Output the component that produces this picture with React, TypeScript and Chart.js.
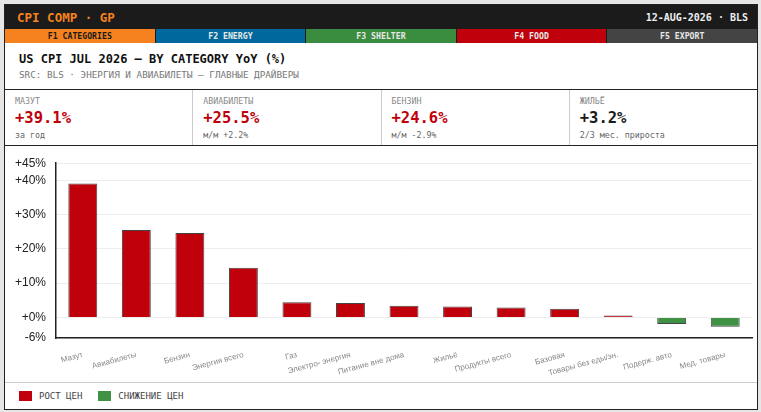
import React, { useEffect, useRef } from "react";
import { Chart, registerables } from "chart.js";

Chart.register(...registerables);

const categories = [
  "Мазут",
  "Авиабилеты",
  "Бензин",
  "Энергия всего",
  "Газ",
  "Электро- энергия",
  "Питание вне дома",
  "Жильё",
  "Продукты всего",
  "Базовая",
  "Товары без еды/эн.",
  "Подерж. авто",
  "Мед. товары",
];
const yoyValues = [39.1, 25.5, 24.6, 14.5, 4.4, 4.2, 3.4, 3.2, 2.9, 2.5, 0.6, -1.9, -2.7];
const yTickValues = [-6, 0, 10, 20, 30, 40, 45];
const tabs = [
  { label: "F1 CATEGORIES", bg: "#f5821f", fg: "#1a1a1a" },
  { label: "F2 ENERGY", bg: "#00689c", fg: "#e8e8e8" },
  { label: "F3 SHELTER", bg: "#3a8c3f", fg: "#e8e8e8" },
  { label: "F4 FOOD", bg: "#c0000b", fg: "#e8e8e8" },
  { label: "F5 EXPORT", bg: "#444444", fg: "#e8e8e8" },
];
const kpis = [
  { label: "МАЗУТ", value: "+39.1%", sub: "за год", color: "#c0000b" },
  { label: "АВИАБИЛЕТЫ", value: "+25.5%", sub: "м/м +2.2%", color: "#c0000b" },
  { label: "БЕНЗИН", value: "+24.6%", sub: "м/м -2.9%", color: "#c0000b" },
  { label: "ЖИЛЬЁ", value: "+3.2%", sub: "2/3 мес. прироста", color: "#1a1a1a" },
];

const RED = "#c0000b";
const GREEN = "#3f9244";
const MONO = "'DejaVu Sans Mono', monospace";
const SANS = "'Liberation Sans', Arial, sans-serif";

function BarChart() {
  const ref = useRef<HTMLCanvasElement | null>(null);
  useEffect(() => {
    if (!ref.current) return;
    const chart = new Chart(ref.current, {
      type: "bar",
      data: {
        labels: categories,
        datasets: [
          {
            data: yoyValues,
            backgroundColor: yoyValues.map((v) => (v >= 0 ? RED : GREEN)),
            borderColor: "#444",
            borderWidth: 1,
            categoryPercentage: 0.6,
            barPercentage: 0.9,
          },
        ],
      },
      options: {
        animation: false,
        responsive: true,
        maintainAspectRatio: false,
        layout: { padding: { top: 14, right: 5, left: 0, bottom: 0 } },
        plugins: { legend: { display: false }, tooltip: { enabled: false } },
        scales: {
          x: {
            grid: { display: false },
            border: { display: true, color: "#222", width: 1.5 },
            afterFit: (axis: any) => {
              axis.height = 44;
            },
            ticks: {
              autoSkip: false,
              minRotation: 15,
              maxRotation: 15,
              padding: 4,
              color: "#888",
              font: { family: SANS, size: 8 },
            },
          },
          y: {
            min: -6,
            max: 45,
            afterBuildTicks: (axis: any) => {
              axis.ticks = yTickValues.map((v) => ({ value: v }));
            },
            grid: { color: "#eeeeee", drawTicks: false },
            border: { display: true, color: "#222", width: 1.5 },
            ticks: {
              padding: 10,
              color: "#222",
              font: { family: SANS, size: 12 },
              callback: (v: any) => (Number(v) >= 0 ? "+" : "") + v + "%",
            },
          },
        },
      },
    });
    return () => chart.destroy();
  }, []);
  return <canvas ref={ref} />;
}

export default function App() {
  useEffect(() => {
    document.body.style.margin = "0";
    document.body.style.background = "#e6e6e6";
  }, []);
  return (
    <div
      style={{
        position: "absolute",
        left: 4,
        top: 4,
        width: 754,
        height: 406,
        boxSizing: "border-box",
        border: "1px solid #222",
        background: "#fff",
        fontFamily: MONO,
        overflow: "hidden",
      }}
    >
      <div
        style={{
          height: 24,
          background: "#1b1b1b",
          display: "flex",
          alignItems: "center",
          justifyContent: "space-between",
          padding: "0 9px 0 12px",
        }}
      >
        <span style={{ color: "#f5821f", fontWeight: "bold", fontSize: 12.5 }}>CPI COMP · GP</span>
        <span style={{ color: "#eeeeee", fontWeight: "bold", fontSize: 10 }}>12-AUG-2026 · BLS</span>
      </div>
      <div style={{ height: 14, display: "flex" }}>
        {tabs.map((t, i) => (
          <div
            key={t.label}
            style={{
              flex: 1,
              background: t.bg,
              color: t.fg,
              fontSize: 8.2,
              fontWeight: "bold",
              display: "flex",
              alignItems: "center",
              justifyContent: "center",
              borderLeft: i > 0 ? "1px solid #1b1b1b" : "none",
            }}
          >
            {t.label}
          </div>
        ))}
      </div>
      <div style={{ height: 46, borderBottom: "1px solid #222", padding: "0 0 0 14px", boxSizing: "content-box" }}>
        <div style={{ paddingTop: 9, fontSize: 12, fontWeight: "bold", color: "#111", lineHeight: "15px" }}>
          US CPI JUL 2026 — BY CATEGORY YoY (%)
        </div>
        <div style={{ fontSize: 9.3, color: "#777", lineHeight: "13px", marginTop: 1 }}>
          SRC: BLS · ЭНЕРГИЯ И АВИАБИЛЕТЫ — ГЛАВНЫЕ ДРАЙВЕРЫ
        </div>
      </div>
      <div style={{ height: 55, borderBottom: "1px solid #222", display: "flex" }}>
        {kpis.map((k, i) => (
          <div
            key={k.label}
            style={{
              flex: 1,
              borderLeft: i > 0 ? "1px solid #cccccc" : "none",
              padding: "5px 0 0 10px",
            }}
          >
            <div style={{ fontSize: 8.3, color: "#888", lineHeight: "12px" }}>{k.label}</div>
            <div style={{ fontSize: 15.5, fontWeight: "bold", color: k.color, lineHeight: "22px" }}>{k.value}</div>
            <div style={{ fontSize: 8.3, color: "#666", lineHeight: "12px" }}>{k.sub}</div>
          </div>
        ))}
      </div>
      <div style={{ position: "relative", height: 236 }}>
        <BarChart />
      </div>
      <div
        style={{
          borderTop: "1px solid #cccccc",
          height: 25,
          display: "flex",
          alignItems: "center",
          paddingLeft: 14,
          fontSize: 9,
          color: "#444",
        }}
      >
        <span style={{ width: 13, height: 10, background: RED, display: "inline-block", marginRight: 7 }} />
        <span style={{ marginRight: 16 }}>РОСТ ЦЕН</span>
        <span style={{ width: 13, height: 10, background: GREEN, display: "inline-block", marginRight: 7 }} />
        <span>СНИЖЕНИЕ ЦЕН</span>
      </div>
    </div>
  );
}
